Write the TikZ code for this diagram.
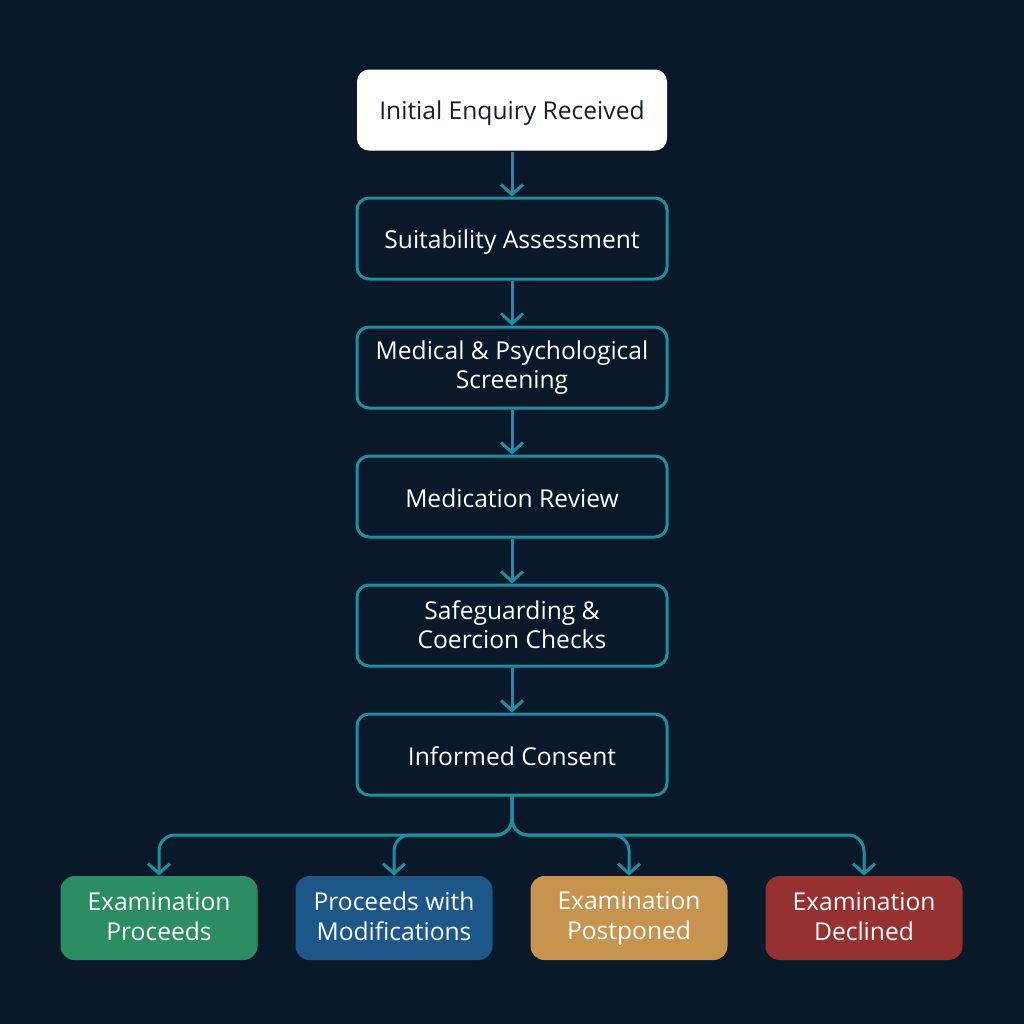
\documentclass[tikz,border=0pt]{standalone}
\usepackage{fontspec}
\setmainfont{Open Sans}
\usetikzlibrary{positioning,arrows.meta}
\definecolor{bgnavy}{HTML}{0A1929}
\definecolor{flowteal}{HTML}{1E8FA3}
\definecolor{startink}{HTML}{161E2C}
\definecolor{okgreen}{HTML}{2C8C62}
\definecolor{modblue}{HTML}{1D5789}
\definecolor{postamber}{HTML}{C6944F}
\definecolor{declred}{HTML}{963131}
\newcommand\capstrut{\rule[-1.4pt]{0pt}{14pt}}
\tikzset{
  stepbox/.style={draw=flowteal,line width=1.5pt,rounded corners=6pt,fill=bgnavy,
    text=white,minimum width=155pt,minimum height=40.5pt,align=center,
    font=\fontsize{12.3}{14.5}\selectfont,
    execute at begin node=\capstrut,execute at end node=\capstrut},
  startbox/.style={stepbox,draw=none,fill=white,text=startink},
  outbox/.style={draw=none,fill=#1,rounded corners=7pt,text=white,
    minimum width=98.5pt,minimum height=42pt,align=center,
    font=\fontsize{12.3}{15}\selectfont,
    execute at begin node=\capstrut,execute at end node=\capstrut},
  flow/.style={draw=flowteal,line width=1.5pt,
    -{Straight Barb[length=5pt,width=11pt]}},
}
\begin{document}
\begin{tikzpicture}[x=0.5pt,y=-0.5pt]
  \fill[bgnavy] (0,0) rectangle (1024,1024);
  \useasboundingbox (0,0) rectangle (1024,1024);
  % main column
  \node[startbox] (enq) at (512,110) {Initial Enquiry Received};
  \node[stepbox] (suit) at (512,238.5) {Suitability Assessment};
  \node[stepbox] (scr) at (512,367.5) {Medical \& Psychological\\Screening};
  \node[stepbox] (med) at (512,496.5) {Medication Review};
  \node[stepbox] (safe) at (512,625.5) {Safeguarding \&\\Coercion Checks};
  \node[stepbox] (cons) at (512,754.5) {Informed Consent};
  % outcomes
  \node[outbox=okgreen] (go) at (159,918) {Examination\\Proceeds};
  \node[outbox=modblue] (mod) at (394,918) {Proceeds with\\Modifications};
  \node[outbox=postamber] (post) at (629,918) {Examination\\Postponed};
  \node[outbox=declred] (decl) at (864,918) {Examination\\Declined};
  \coordinate (split) at (512,835);
  % connectors
  \draw[flow] (enq) -- (suit);
  \draw[flow] (suit) -- (scr);
  \draw[flow] (scr) -- (med);
  \draw[flow] (med) -- (safe);
  \draw[flow] (safe) -- (cons);
  \foreach \o in {go,mod,post,decl}
    \draw[flow,rounded corners=8pt] (cons.south) -- (split) -| (\o.north);
\end{tikzpicture}
\end{document}
